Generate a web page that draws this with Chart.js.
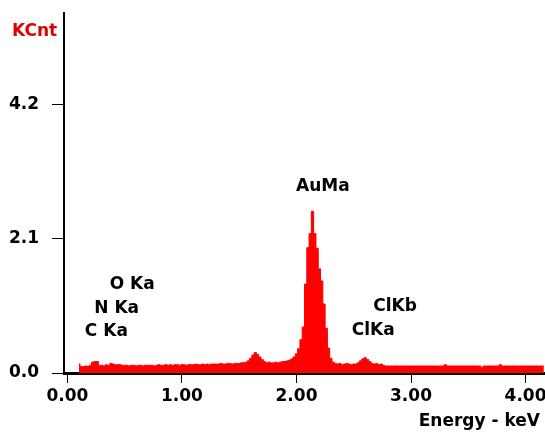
<!DOCTYPE html>
<html>
<head>
<meta charset="utf-8">
<script src="https://cdn.jsdelivr.net/npm/chart.js@4.4.0/dist/chart.umd.min.js"></script>
<style>
  html, body { margin: 0; padding: 0; background: #fff; }
  #wrap { width: 545px; height: 432px; }
</style>
</head>
<body>
<div id="wrap"><canvas id="spectrum"></canvas></div>
<script>
// EDS spectrum, counts in KCnt per 0.02 keV channel starting at 0.10 keV
const startKeV = 0.10;
const binKeV = 0.02;
const counts = [
  0.14, 0.10, 0.10, 0.11, 0.10, 0.12, 0.17, 0.18, 0.18, 0.12,   // 0.10
  0.12, 0.11, 0.13, 0.12, 0.15, 0.14, 0.13, 0.13, 0.13, 0.12,   // 0.30
  0.12, 0.12, 0.11, 0.12, 0.12, 0.11, 0.12, 0.12, 0.11, 0.12,   // 0.50
  0.12, 0.12, 0.12, 0.11, 0.12, 0.13, 0.12, 0.12, 0.13, 0.12,   // 0.70
  0.13, 0.12, 0.13, 0.13, 0.12, 0.13, 0.13, 0.12, 0.13, 0.13,   // 0.90
  0.13, 0.14, 0.13, 0.13, 0.14, 0.13, 0.14, 0.13, 0.14, 0.14,   // 1.10
  0.14, 0.14, 0.15, 0.14, 0.14, 0.15, 0.15, 0.14, 0.15, 0.15,   // 1.30
  0.15, 0.16, 0.16, 0.17, 0.19, 0.23, 0.28, 0.32, 0.29, 0.25,   // 1.50
  0.21, 0.18, 0.16, 0.17, 0.16, 0.16, 0.17, 0.16, 0.17, 0.18,   // 1.70
  0.18, 0.19, 0.20, 0.22, 0.25, 0.30, 0.38, 0.52, 0.72, 1.39,   // 1.90
  1.96, 2.18, 2.53, 2.18, 1.95, 1.63, 1.44, 1.08, 0.70, 0.39,   // 2.10
  0.23, 0.17, 0.15, 0.14, 0.15, 0.13, 0.14, 0.15, 0.14, 0.13,   // 2.30
  0.14, 0.14, 0.16, 0.19, 0.22, 0.24, 0.21, 0.18, 0.15, 0.14,   // 2.50
  0.15, 0.13, 0.14, 0.12, 0.11, 0.11, 0.11, 0.11, 0.11, 0.11,   // 2.70
  0.11, 0.11, 0.11, 0.11, 0.11, 0.11, 0.11, 0.11, 0.11, 0.11,   // 2.90
  0.11, 0.11, 0.11, 0.11, 0.11, 0.11, 0.11, 0.11, 0.11, 0.11,   // 3.10
  0.13, 0.11, 0.11, 0.11, 0.11, 0.11, 0.11, 0.11, 0.11, 0.11,   // 3.30
  0.11, 0.11, 0.11, 0.11, 0.11, 0.11, 0.09, 0.11, 0.11, 0.11,   // 3.50
  0.11, 0.11, 0.11, 0.11, 0.13, 0.11, 0.11, 0.11, 0.11, 0.11,   // 3.70
  0.11, 0.11, 0.11, 0.11, 0.11, 0.11, 0.11, 0.11, 0.11, 0.11,   // 3.90
  0.11, 0.11, 0.11, 0.11                                        // 4.10
];
const xTicks = [0, 1, 2, 3, 4];
const yTicks = [0, 2.1, 4.2];

// peak names, placed at (keV, KCnt)
const peakNames = ['AuMa', 'O Ka', 'N Ka', 'C Ka', 'ClKb', 'ClKa'];
const peakAt = [[2.23, 2.92], [0.565, 1.39], [0.43, 1.0], [0.34, 0.65], [2.86, 1.04], [2.67, 0.67]];

const FONT = 'bold 17px "DejaVu Sans"';

const textPlugin = {
  id: 'spectrumText',
  afterDraw(chart) {
    const { ctx, scales } = chart;
    ctx.save();
    ctx.font = FONT;
    ctx.textBaseline = 'middle';
    ctx.fillStyle = '#000';
    ctx.textAlign = 'center';
    peakNames.forEach((name, i) => {
      ctx.fillText(name, scales.x.getPixelForValue(peakAt[i][0]), scales.y.getPixelForValue(peakAt[i][1]));
    });
    ctx.textAlign = 'right';
    ctx.fillText('Energy - keV', 540, 422);
    ctx.textAlign = 'left';
    ctx.fillStyle = '#e00000';
    ctx.fillText('KCnt', 12, 32);
    ctx.restore();
  }
};

new Chart(document.getElementById('spectrum').getContext('2d'), {
  type: 'line',
  data: {
    datasets: [{
      data: counts.map((c, i) => ({ x: startKeV + i * binKeV, y: c })),
      stepped: 'middle',
      fill: 'origin',
      backgroundColor: '#ff0000',
      borderColor: '#ff0000',
      borderWidth: 1,
      pointRadius: 0
    }]
  },
  options: {
    responsive: true,
    maintainAspectRatio: false,
    animation: false,
    layout: { padding: { top: 13, left: 0, right: 0, bottom: 0 } },
    plugins: { legend: { display: false }, tooltip: { enabled: false } },
    scales: {
      x: {
        type: 'linear',
        min: -0.03,
        max: 4.17,
        afterBuildTicks: s => { s.ticks = xTicks.map(v => ({ value: v })); },
        afterFit: s => { s.height = 59; s.paddingLeft = 0; s.paddingRight = 0; },
        ticks: {
          callback: v => v.toFixed(2),
          font: { family: 'DejaVu Sans', size: 17, weight: 'bold' },
          color: '#000',
          maxRotation: 0,
          autoSkip: false,
          padding: 3
        },
        grid: { drawOnChartArea: false, tickLength: 10, color: '#000', lineWidth: 1 },
        border: { color: '#000', width: 3 }
      },
      y: {
        min: 0,
        max: 5.63,
        afterBuildTicks: s => { s.ticks = yTicks.map(v => ({ value: v })); },
        afterFit: s => { s.width = 64; s.paddingTop = 0; s.paddingBottom = 0; },
        ticks: {
          callback: v => v.toFixed(1),
          font: { family: 'DejaVu Sans', size: 17, weight: 'bold' },
          color: '#000',
          padding: 13
        },
        grid: { drawOnChartArea: false, tickLength: 12, color: '#000', lineWidth: 1 },
        border: { color: '#000', width: 2 }
      }
    }
  },
  plugins: [textPlugin]
});
</script>
</body>
</html>
